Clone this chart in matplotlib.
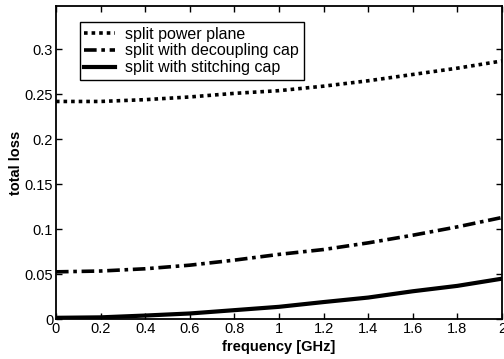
import matplotlib
matplotlib.use("Agg")
import matplotlib.pyplot as plt
import numpy as np

plt.rcParams['font.family'] = ['Liberation Sans', 'DejaVu Sans']

freq = [0, 0.2, 0.4, 0.6, 0.8, 1.0, 1.2, 1.4, 1.6, 1.8, 2.0]
power_plane = [0.242, 0.242, 0.244, 0.247, 0.251, 0.254, 0.259, 0.265, 0.272, 0.279, 0.287]
decoupling = [0.0526, 0.0535, 0.056, 0.060, 0.0656, 0.072, 0.0774, 0.0848, 0.0933, 0.1026, 0.113]
stitching = [0.0015, 0.002, 0.004, 0.0063, 0.010, 0.0137, 0.019, 0.024, 0.031, 0.037, 0.045]
labels = ['split power plane', 'split with decoupling cap', 'split with stitching cap']
yticks = [0, 0.05, 0.1, 0.15, 0.2, 0.25, 0.3]
ytick_labels = ['0', '0.05', '0.1', '0.15', '0.2', '0.25', '0.3']
xticks = [0, 0.2, 0.4, 0.6, 0.8, 1, 1.2, 1.4, 1.6, 1.8, 2]
xtick_labels = ['0', '0.2', '0.4', '0.6', '0.8', '1', '1.2', '1.4', '1.6', '1.8', '2']

fig = plt.figure(figsize=(5.04, 3.59), dpi=100)
ax = fig.add_axes([0.111, 0.111, 0.885, 0.872])

ax.plot(freq, power_plane, color='black', lw=2.6, linestyle=(0, (1, 1.1)), label=labels[0])
ax.plot(freq, decoupling, color='black', lw=2.6, linestyle=(0, (3.5, 1.3, 1, 1.3)), label=labels[1])
ax.plot(freq, stitching, color='black', lw=3.0, linestyle='-', label=labels[2])

ax.set_xlim(0, 2)
ax.set_ylim(0, 0.348)
ax.set_xticks(xticks)
ax.set_xticklabels(xtick_labels)
ax.set_yticks(yticks)
ax.set_yticklabels(ytick_labels)
ax.tick_params(direction='in', top=True, right=True, labelsize=10.5, length=4, width=1, pad=2)
for s in ax.spines.values():
    s.set_linewidth(1.3)

ax.set_xlabel('frequency [GHz]', fontsize=10.5, fontweight='bold', labelpad=3)
ax.set_ylabel('total loss', fontsize=10.5, fontweight='bold', labelpad=1)

leg = ax.legend(loc='upper left', bbox_to_anchor=(0.053, 0.95), fontsize=11.5, frameon=True,
                fancybox=False, edgecolor='black', framealpha=1, handlelength=1.9,
                borderpad=0.3, labelspacing=0.12, handletextpad=0.65, borderaxespad=0)
leg.get_frame().set_linewidth(1.0)

fig.savefig('out.png', dpi=100)
